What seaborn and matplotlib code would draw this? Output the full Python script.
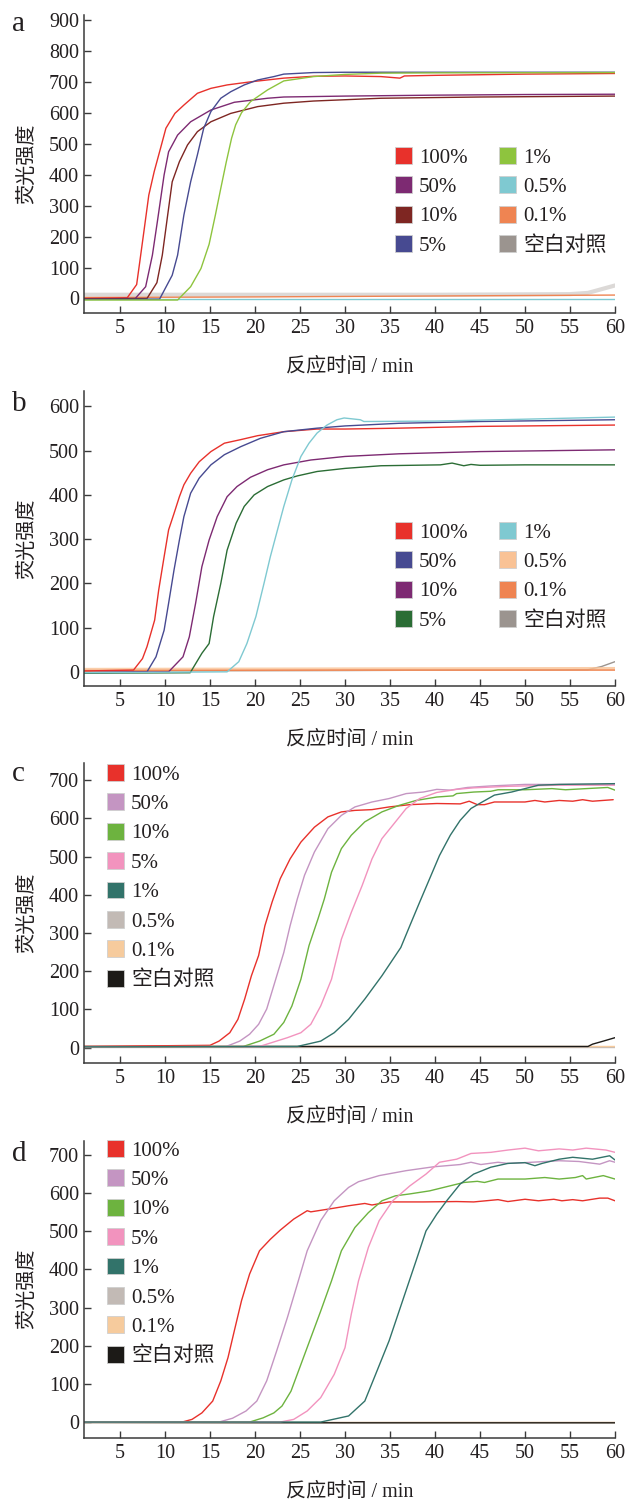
import matplotlib
matplotlib.use("Agg")
import matplotlib.pyplot as plt
from matplotlib.patches import Patch
import pandas as pd
import seaborn as sns

sns.set_style("ticks")
plt.rcParams["font.family"] = ["Liberation Serif", "Noto Sans CJK SC"]
plt.rcParams["axes.unicode_minus"] = False

LABELS = ["100%", "50%", "10%", "5%", "1%", "0.5%", "0.1%", "空白对照"]
X_TICKS = list(range(5, 61, 5))

# ---------------- panel a ----------------
A_T_100 = [1, 5.8, 6.85, 7.2, 7.7, 8.2, 8.8, 9.5, 10.1, 11.1, 12.1, 13.6, 15.1, 16.9, 19.5, 23.2, 26.5, 30, 34, 36.1, 36.6, 40, 45, 50, 55, 60]
A_V_100 = [0, 2, 45, 119, 226, 334, 410, 485, 550, 598, 625, 663, 679, 690, 700, 712, 718, 719, 717, 712, 719, 721, 723, 725, 726, 727]
A_T_50 = [1, 6.7, 7.85, 8.6, 9.15, 9.9, 10.4, 11.4, 12.85, 15.1, 17.7, 21.4, 23.2, 30, 40, 50, 60]
A_V_50 = [-2, 0, 38, 140, 248, 399, 474, 528, 571, 609, 634, 647, 651, 654, 657, 659, 660]
A_T_10 = [1, 8, 9.1, 9.7, 10.3, 10.8, 11.6, 12.5, 13.6, 15.1, 17.3, 20.3, 23.2, 26.5, 34, 45, 60]
A_V_10 = [-2, 0, 51, 140, 270, 377, 442, 496, 539, 571, 598, 620, 631, 638, 647, 651, 654]
A_T_5 = [1, 9.4, 10.8, 11.4, 12.1, 12.85, 13.6, 14.3, 15.1, 16.2, 17.3, 18.8, 20.3, 22.1, 23.2, 26.5, 30, 60]
A_V_5 = [-3, -2, 75, 140, 270, 377, 464, 550, 604, 647, 668, 690, 706, 717, 725, 730, 731, 731]
A_T_1 = [1, 11.4, 12.85, 14, 14.9, 15.6, 16.2, 16.8, 17.4, 17.85, 18.5, 19.5, 21.4, 23.2, 26.5, 30, 34, 40, 60]
A_V_1 = [-5, -5, 38, 97, 175, 270, 356, 440, 518, 561, 600, 636, 674, 703, 717, 724, 728, 729, 730]
A_T_05 = [1, 30, 60]
A_V_05 = [-3, -3, -3]
A_T_01 = [1, 20, 40, 60]
A_V_01 = [3, 5, 8, 11]
A_T_BL = [1, 20, 40, 55, 57, 58.5, 60]
A_V_BL = [12, 12, 12, 14, 18, 30, 42]
A_COLORS = ["#e8312b", "#7d2a72", "#7e2622", "#474a91", "#8ec43e", "#7fc9d1", "#ef8452", "#9b948f"]
A_YTICKS = list(range(0, 901, 100))

# ---------------- panel b ----------------
B_T_100 = [1, 6.5, 7.5, 8.0, 8.85, 9.3, 9.9, 10.4, 11, 11.6, 12.1, 12.85, 13.8, 15.1, 16.6, 18.4, 20.3, 23.2, 26.9, 30, 36, 45, 60]
B_V_100 = [2, 4, 30, 57, 117, 185, 260, 321, 358, 396, 423, 449, 475, 498, 517, 525, 534, 543, 549, 549, 551, 555, 558]
B_T_50 = [1, 8, 9, 9.9, 10.4, 11, 11.6, 12.1, 12.85, 13.8, 15.1, 16.6, 18.4, 20.6, 23.2, 26.9, 30, 36, 45, 60]
B_V_50 = [-2, 0, 34, 94, 155, 230, 298, 351, 404, 438, 468, 491, 509, 528, 543, 551, 556, 562, 566, 570]
B_T_10 = [1, 10.4, 12, 12.7, 13.4, 14.1, 14.9, 15.8, 16.9, 18, 19.5, 21.4, 23.2, 26.2, 30, 36, 45, 60]
B_V_10 = [-2, 0, 34, 79, 155, 238, 298, 351, 396, 419, 440, 457, 468, 479, 487, 493, 498, 502]
B_T_5 = [1, 12.8, 14.1, 14.9, 15.4, 16.2, 16.9, 17.9, 18.8, 19.9, 21.4, 23.2, 24.7, 26.9, 30, 34, 40.6, 41.9, 43.2, 44, 45, 50, 60]
B_V_5 = [-3, -2, 42, 64, 125, 200, 275, 336, 374, 400, 419, 434, 443, 453, 460, 466, 468, 472, 466, 469, 467, 468, 468]
B_T_1 = [1, 16.9, 18.2, 19.1, 20.1, 21, 21.7, 22.5, 23.2, 24.1, 25.1, 26, 26.9, 28, 29.1, 29.9, 31.7, 32.1, 40, 49.4, 60]
B_V_1 = [-2, 0, 23, 64, 125, 200, 260, 321, 374, 434, 487, 517, 540, 558, 570, 574, 570, 566, 567, 571, 576]
B_T_05 = [1, 30, 60]
B_V_05 = [5, 6, 7]
B_T_01 = [1, 30, 60]
B_V_01 = [3, 4, 4]
B_T_BL = [1, 30, 57, 58.5, 60]
B_V_BL = [2, 3, 5, 12, 23]
B_COLORS = ["#e8312b", "#474a91", "#7d2a72", "#2b6d35", "#7fc9d1", "#f9c295", "#ef8452", "#9b948f"]
B_YTICKS = list(range(0, 601, 100))

# ---------------- panel c ----------------
C_T_100 = [1, 15, 16, 17.2, 18.1, 18.85, 19.6, 20.4, 21.1, 21.9, 22.8, 23.9, 25.1, 26.6, 28.1, 29.6, 31.1, 33, 34.9, 37.2, 40.2, 42.8, 43.8, 44.7, 45.5, 46.6, 50, 51.1, 52.2, 53.8, 55.3, 56.4, 57.5, 59.8]
C_V_100 = [3, 6, 17, 39, 74, 127, 188, 241, 319, 381, 442, 494, 538, 577, 604, 617, 621, 623, 630, 636, 639, 638, 645, 636, 636, 643, 643, 647, 643, 647, 645, 649, 645, 649]
C_T_50 = [1, 16.8, 18.3, 19.4, 20.4, 21.3, 22.2, 23.2, 23.9, 24.7, 25.5, 26.6, 28.1, 29.6, 31.1, 33, 34.9, 36.8, 38.7, 40.2, 41.7, 43.6, 46.2, 50, 60]
C_V_50 = [2, 3, 17, 35, 61, 101, 171, 249, 319, 389, 451, 512, 573, 608, 630, 643, 652, 665, 669, 676, 674, 681, 685, 689, 689]
C_T_10 = [1, 18.7, 20.5, 22.1, 23.2, 24.1, 25.1, 26, 27, 27.7, 28.5, 29.6, 30.7, 32.2, 34.1, 36, 37.9, 40.2, 42, 42.4, 44.3, 46.2, 47, 50, 53, 54.5, 56.8, 59.2, 60]
C_V_10 = [2, 3, 17, 35, 66, 109, 179, 267, 337, 389, 459, 521, 556, 591, 617, 634, 647, 656, 659, 665, 669, 671, 675, 675, 678, 675, 678, 681, 674]
C_T_5 = [1, 20.5, 23.6, 25.1, 26.2, 27.3, 28.5, 29.6, 30.7, 31.9, 33, 34.1, 35.3, 36.8, 38.3, 40.2, 42.4, 44.3, 48.1, 53.8, 60]
C_V_5 = [2, 3, 26, 39, 61, 109, 179, 284, 354, 424, 494, 547, 582, 626, 652, 668, 676, 680, 684, 687, 687]
C_T_1 = [1, 24.7, 27.3, 28.8, 30.4, 32.2, 34.1, 36.2, 37.2, 38.3, 39.4, 40.5, 41.7, 42.8, 44, 45.1, 46.6, 48.5, 50, 51.5, 53.8, 60]
C_V_1 = [2, 3, 17, 39, 74, 127, 188, 262, 319, 381, 442, 503, 556, 595, 626, 641, 661, 669, 678, 687, 689, 691]
C_T_05 = [1, 30, 60]
C_V_05 = [2, 2, 2]
C_T_01 = [1, 30, 60]
C_V_01 = [3, 3, 3]
C_T_BL = [1, 30, 57, 57.5, 58.7, 60]
C_V_BL = [3, 3, 3, 9, 17, 26]

# ---------------- panel d ----------------
D_T_100 = [1, 11.9, 13, 14.1, 15.3, 16.2, 17, 17.7, 18.5, 19.4, 20.5, 21.7, 22.8, 24.3, 25.8, 26.2, 28.1, 30.4, 32.2, 33, 34.9, 38.7, 42.4, 44.3, 47, 48.1, 50, 51.5, 53.2, 54.1, 55.3, 56.4, 58.3, 59.2, 60]
D_V_100 = [0, 0, 7, 24, 55, 108, 169, 239, 318, 388, 449, 479, 503, 532, 554, 551, 558, 567, 573, 569, 577, 577, 578, 577, 583, 578, 584, 580, 584, 580, 583, 580, 587, 587, 580]
D_T_50 = [1, 16, 17.5, 19, 20.2, 21.3, 22.4, 23.6, 24.7, 25.8, 27.3, 28.8, 30.4, 31.5, 33.8, 36.8, 39.8, 42.8, 44, 45.1, 47, 48.1, 50, 53.8, 56, 58.3, 59.4, 60]
D_V_50 = [0, 0, 10, 29, 55, 108, 186, 274, 361, 449, 528, 580, 615, 630, 646, 659, 669, 675, 681, 675, 681, 678, 680, 685, 683, 676, 685, 681]
D_T_10 = [1, 19.4, 20.9, 22.1, 23, 24, 25.1, 26.2, 27.3, 28.5, 29.6, 31.1, 32.6, 34.1, 35.6, 37.2, 39.4, 41.3, 43.2, 44.7, 45.5, 47, 50, 52.2, 53.8, 55.6, 56.4, 56.8, 58.7, 60]
D_V_10 = [0, 0, 11, 24, 42, 81, 151, 221, 291, 370, 449, 510, 549, 580, 593, 598, 606, 617, 628, 631, 628, 637, 637, 641, 637, 641, 646, 637, 646, 637]
D_T_5 = [1, 22.8, 24.3, 25.8, 27.3, 28.8, 30, 30.7, 31.5, 32.6, 33.8, 35.3, 37.2, 39, 40.5, 42.4, 44, 46.2, 48.1, 50, 51.5, 53.8, 55.3, 56.8, 59, 60]
D_V_5 = [0, 0, 7, 29, 64, 125, 195, 283, 370, 458, 528, 580, 619, 650, 681, 689, 704, 707, 713, 718, 711, 716, 713, 718, 713, 707]
D_T_1 = [1, 27.3, 30.4, 32.2, 33.4, 34.9, 36.4, 37.9, 39, 40.2, 41.3, 42.8, 44.3, 46.2, 48.1, 50, 51.1, 51.9, 53.8, 55.3, 57.5, 59.4, 60]
D_V_1 = [0, 0, 16, 55, 125, 213, 318, 423, 501, 545, 580, 624, 650, 668, 678, 680, 672, 678, 689, 694, 689, 698, 687]
D_T_05 = [1, 30, 60]
D_V_05 = [0, 0, 0]
D_T_01 = [1, 30, 60]
D_V_01 = [0, 0, 0]
D_T_BL = [1, 30, 60]
D_V_BL = [-1, -2, -2]

CD_COLORS = ["#e8312b", "#c495c2", "#6db33f", "#f293be", "#32736a", "#c2bab5", "#f6cb9d", "#1c1a17"]
CD_YTICKS = list(range(0, 701, 100))

TEXT = "#231f20"
SPINE = "#3a3a3a"

fig = plt.figure(figsize=(6.28, 14.99), dpi=100)

def axes_at(top_px, bottom_px):
    H = 1499.0
    return fig.add_axes([84 / 628, 1 - bottom_px / H, 531 / 628, (bottom_px - top_px) / H])

panels = [
    dict(letter="a", top=15, bottom=312.7, ylim=(-46, 916), yticks=A_YTICKS, colors=A_COLORS,
         series=[(A_T_BL, A_V_BL), (A_T_05, A_V_05), (A_T_01, A_V_01), (A_T_100, A_V_100), (A_T_50, A_V_50),
                 (A_T_10, A_V_10), (A_T_5, A_V_5), (A_T_1, A_V_1)],
         order=[7, 5, 6, 0, 1, 2, 3, 4], thick={7: (3.0, 0.35)},
         ncol=2, leg=(395, 147), letter_y=31),
    dict(letter="b", top=391, bottom=686, ylim=(-32, 635), yticks=B_YTICKS, colors=B_COLORS,
         series=[(B_T_BL, B_V_BL), (B_T_05, B_V_05), (B_T_01, B_V_01), (B_T_100, B_V_100), (B_T_50, B_V_50),
                 (B_T_10, B_V_10), (B_T_5, B_V_5), (B_T_1, B_V_1)],
         order=[7, 5, 6, 0, 1, 2, 3, 4], thick={5: (2.6, 0.8)},
         ncol=2, leg=(395, 522), letter_y=411),
    dict(letter="c", top=763.4, bottom=1062.7, ylim=(-39.5, 744), yticks=CD_YTICKS, colors=CD_COLORS,
         series=[(C_T_05, C_V_05), (C_T_01, C_V_01), (C_T_BL, C_V_BL), (C_T_100, C_V_100), (C_T_50, C_V_50),
                 (C_T_10, C_V_10), (C_T_5, C_V_5), (C_T_1, C_V_1)],
         order=[5, 6, 7, 0, 1, 2, 3, 4], thick={},
         ncol=1, leg=(107, 764), letter_y=781),
    dict(letter="d", top=1140.7, bottom=1437.7, ylim=(-41, 737.5), yticks=CD_YTICKS, colors=CD_COLORS,
         series=[(D_T_05, D_V_05), (D_T_01, D_V_01), (D_T_BL, D_V_BL), (D_T_100, D_V_100), (D_T_50, D_V_50),
                 (D_T_10, D_V_10), (D_T_5, D_V_5), (D_T_1, D_V_1)],
         order=[5, 6, 7, 0, 1, 2, 3, 4], thick={},
         ncol=1, leg=(107, 1140), letter_y=1161),
]

for p in panels:
    ax = axes_at(p["top"], p["bottom"])
    for (t, v), idx in zip(p["series"], p["order"]):
        lw, alpha = p["thick"].get(idx, (1.0, 1.0))
        df = pd.DataFrame({"t": t, "v": v})
        sns.lineplot(data=df, x="t", y="v", ax=ax, color=p["colors"][idx],
                     linewidth=lw, alpha=alpha, estimator=None, sort=False, legend=False)
    ax.set_xlim(1, 60)
    ax.set_ylim(*p["ylim"])
    ax.set_xticks(X_TICKS)
    ax.set_yticks(p["yticks"])
    sns.despine(ax=ax)
    for s in ("left", "bottom"):
        ax.spines[s].set_color(SPINE)
        ax.spines[s].set_linewidth(1.1)
    ax.tick_params(axis="both", direction="in", length=5, width=1.0, color=SPINE,
                   labelsize=14.5, labelcolor=TEXT)
    ax.tick_params(axis="x", pad=4.5)
    ax.tick_params(axis="y", pad=3.5)
    ax.set_xlabel("反应时间 / min", fontsize=14.5, color=TEXT)
    ax.xaxis.set_label_coords(0.5, -0.152)
    ax.set_ylabel("荧光强度", fontsize=14.5, color=TEXT, family=["Noto Sans CJK SC"])
    ax.yaxis.set_label_coords(-0.088, 0.5)

    handles = [Patch(facecolor=c, edgecolor="#cfcfcf", linewidth=0.6) for c in p["colors"]]
    lx, ly = p["leg"]
    ax.legend(handles, LABELS, ncol=p["ncol"], loc="upper left",
              bbox_to_anchor=(lx / 628, 1 - ly / 1499), bbox_transform=fig.transFigure,
              frameon=False, borderaxespad=0, borderpad=0, fontsize=15,
              handlelength=0.82, handleheight=0.87, handletextpad=0.34,
              columnspacing=1.5, labelspacing=0.42, labelcolor=TEXT)

    fig.text(12 / 628, 1 - p["letter_y"] / 1499, p["letter"], fontsize=21,
             color=TEXT, ha="left", va="baseline")

fig.savefig("out.png", dpi=100)
